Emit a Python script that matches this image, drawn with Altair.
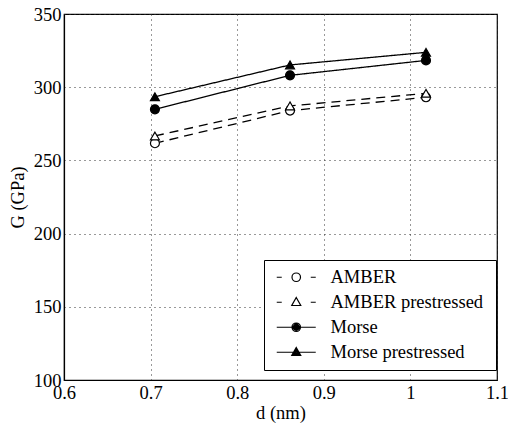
import altair as alt
import pandas as pd

# ---- data ----
d_nm = [0.705, 0.861, 1.018]
series_names = ["AMBER", "AMBER  prestressed", "Morse", "Morse prestressed"]
g_amber = [261.7, 284.0, 293.1]
g_amber_pre = [266.7, 287.2, 295.8]
g_morse = [284.9, 308.1, 318.3]
g_morse_pre = [293.5, 315.2, 323.8]
x_ticks = [0.6, 0.7, 0.8, 0.9, 1.0, 1.1]
y_ticks = [100, 150, 200, 250, 300, 350]

rows = []
for name, vals in zip(series_names, [g_amber, g_amber_pre, g_morse, g_morse_pre]):
    for d, g in zip(d_nm, vals):
        rows.append({"d": d, "G": g, "series": name})
df = pd.DataFrame(rows)

FONT = "Times New Roman, Liberation Serif, DejaVu Serif, serif"
FS = 18.5

marker_shapes = ["circle", "triangle-up", "circle", "triangle-up"]
marker_fills = ["white", "white", "black", "black"]
line_dashes = [[9, 6], [9, 6], [1, 0], [1, 0]]


# legend glyphs (SVG paths in symbol units): line stub(s) + marker
def circle_path(r):
    k = 0.5523 * r
    return (f"M{r},0C{r},{k},{k},{r},0,{r}C{-k},{r},{-r},{k},{-r},0"
            f"C{-r},{-k},{-k},{-r},0,{-r}C{k},{-r},{r},{-k},{r},0Z")


def triangle_path(f):
    cy = 0.117
    pts = [(0, -0.95), (0.9, 0.65), (-0.9, 0.65)]
    p = [(round(x * f, 3), round(cy + (y - cy) * f, 3)) for x, y in pts]
    return f"M{p[0][0]},{p[0][1]}L{p[1][0]},{p[1][1]}L{p[2][0]},{p[2][1]}Z"


open_circ = circle_path(0.85)
open_tri = triangle_path(1.0)
solid_circ = "".join(circle_path(r) for r in [0.85, 0.62, 0.39, 0.16])
solid_tri = "".join(triangle_path(f) for f in [1.0, 0.75, 0.5, 0.25])
dash_seg = "M-3.9,0L-2.9,0M2.9,0L3.9,0"
solid_seg = "M-3.9,0L3.9,0"
legend_paths = [dash_seg + open_circ, dash_seg + open_tri, solid_seg + solid_circ, solid_seg + solid_tri]

axis_font = dict(labelFont=FONT, titleFont=FONT, labelFontSize=FS, titleFontSize=FS,
                 titleFontWeight="normal", labelColor="black", titleColor="black")

x_enc = alt.X(
    "d:Q",
    scale=alt.Scale(domain=[0.6, 1.1], nice=False, zero=False),
    axis=alt.Axis(values=x_ticks, format="~g", title="d (nm)", titlePadding=2, **axis_font),
)
y_enc = alt.Y(
    "G:Q",
    scale=alt.Scale(domain=[100, 350], nice=False, zero=False),
    axis=alt.Axis(values=y_ticks, title="G (GPa)", titlePadding=6, **axis_font),
)

layers = []
for name, shp, fll, dsh in zip(series_names, marker_shapes, marker_fills, line_dashes):
    base = alt.Chart(df).transform_filter(alt.datum.series == name)
    layers.append(base.mark_line(color="black", strokeWidth=1.3, strokeDash=dsh).encode(x=x_enc, y=y_enc))
    layers.append(
        base.mark_point(shape=shp, fill=fll, stroke="black", strokeWidth=1.2, opacity=1, filled=False, size=80)
        .encode(x=x_enc, y=y_enc)
    )

leg = alt.Legend(
    title=None,
    orient="none",
    legendX=200,
    legendY=246,
    strokeColor="black",
    fillColor="white",
    padding=8,
    symbolSize=100,
    symbolOffset=15,
    labelOffset=25,
    rowPadding=6,
    labelFont=FONT,
    labelFontSize=FS,
    labelColor="black",
    symbolStrokeWidth=1.2,
    symbolStrokeColor="black",
    symbolOpacity=1,
    cornerRadius=0,
)

# legend-only layer: no rows drawn, entries come from the explicit scale domain
legend_layer = (
    alt.Chart(df)
    .transform_filter("false")
    .mark_point(color="black", strokeWidth=1.2, size=100, filled=False, opacity=1)
    .encode(
        x=x_enc,
        y=y_enc,
        shape=alt.Shape("series:N", scale=alt.Scale(domain=series_names, range=legend_paths), legend=leg),
    )
)
layers.append(legend_layer)

axis_cfg = dict(
    labelFont=FONT,
    labelFontSize=FS,
    labelColor="black",
    titleFont=FONT,
    titleFontSize=FS,
    titleFontWeight="normal",
    titleColor="black",
    domainColor="black",
    domainWidth=1.2,
    tickColor="black",
    tickSize=0,
    labelPadding=3,
    labelOverlap=False,
    labelFlush=False,
    gridColor="#333333",
    gridDash=[1, 4],
    gridWidth=1,
)

chart = (
    alt.layer(*layers)
    .properties(
        width=433,
        height=366,
        autosize=alt.AutoSizeParams(type="none"),
        padding={"left": 64, "top": 14, "right": 11, "bottom": 50},
        background="white",
    )
    .configure(font=FONT, style={"guide-label": {"font": FONT, "fontSize": FS},
                                 "guide-title": {"font": FONT, "fontSize": FS}})
    .configure_view(stroke="black", strokeWidth=1.2)
    .configure_axis(**axis_cfg)
    .configure_axisX(labelFont=FONT, titleFont=FONT)
    .configure_axisY(labelFont=FONT, titleFont=FONT)
)

chart.save("out.html", embed_options={"renderer": "svg", "actions": False})
